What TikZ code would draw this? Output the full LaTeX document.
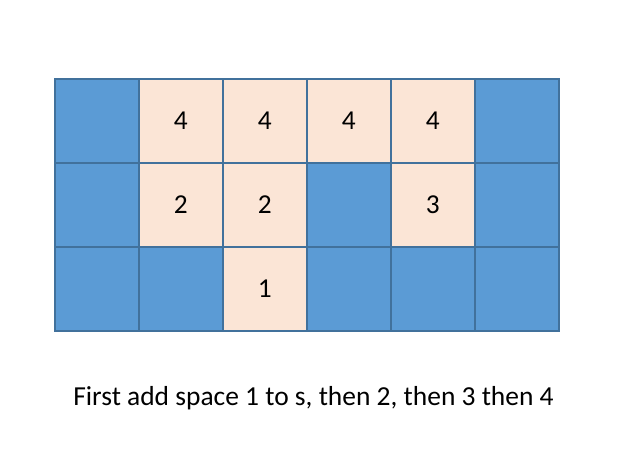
\documentclass[tikz,border=0pt]{standalone}
\usepackage{fontspec}
\setmainfont{Carlito}
\definecolor{cellblue}{HTML}{5B9BD5}
\definecolor{cellpeach}{HTML}{FBE5D6}
\definecolor{cellborder}{HTML}{41719C}
\begin{document}
\begin{tikzpicture}[x=0.75pt,y=-0.75pt,
  bcell/.style={draw=cellborder,line width=1.2pt,fill=cellblue,minimum size=63pt,inner sep=0pt,anchor=north west},
  pcell/.style={draw=cellborder,line width=1.2pt,fill=cellpeach,minimum size=63pt,inner sep=0pt,anchor=north west,font=\fontsize{20.5}{24}\selectfont},
  caption/.style={font=\fontsize{20.6}{24}\selectfont}]
\useasboundingbox (0,0) rectangle (632,473);
% row 1
\node[bcell] (a1) at (54,78) {};
\node[pcell] (b1) at (138,78) {4};
\node[pcell] (c1) at (222,78) {4};
\node[pcell] (d1) at (306,78) {4};
\node[pcell] (e1) at (390,78) {4};
\node[bcell] (f1) at (474,78) {};
% row 2
\node[bcell] (a2) at (54,162) {};
\node[pcell] (b2) at (138,162) {2};
\node[pcell] (c2) at (222,162) {2};
\node[bcell] (d2) at (306,162) {};
\node[pcell] (e2) at (390,162) {3};
\node[bcell] (f2) at (474,162) {};
% row 3
\node[bcell] (a3) at (54,246) {};
\node[bcell] (b3) at (138,246) {};
\node[pcell] (c3) at (222,246) {1};
\node[bcell] (d3) at (306,246) {};
\node[bcell] (e3) at (390,246) {};
\node[bcell] (f3) at (474,246) {};
\node[caption] (cap) at (313.5,398) {First add space 1 to s, then 2, then 3 then 4};
\end{tikzpicture}
\end{document}
